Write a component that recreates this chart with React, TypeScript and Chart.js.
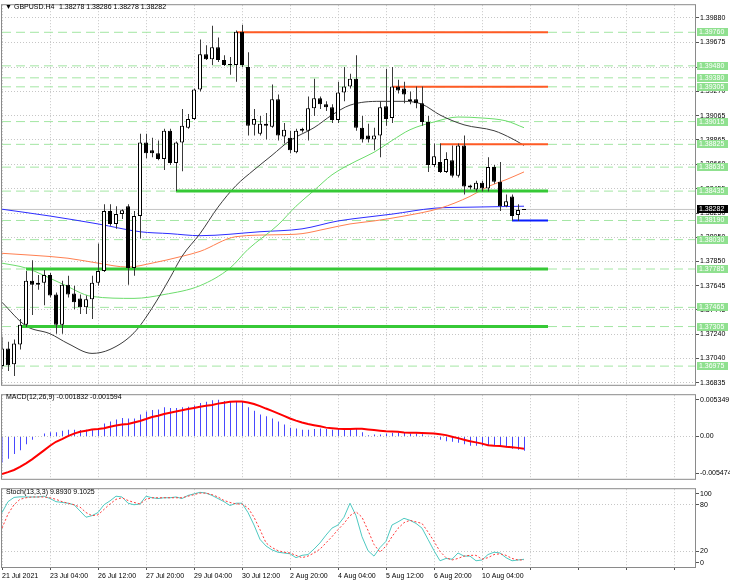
import React, { useEffect, useRef } from "react";
import { Chart, registerables } from "chart.js";

Chart.register(...registerables);

const FONT = '"Liberation Sans", Arial, sans-serif';

// GBPUSD H4 candles, one per bar (bar 0 = 21 Jul 20:00)
const candleOpen = [
  1.36975, 1.37122, 1.36991, 1.37155, 1.37319, 1.37687, 1.37654, 1.3767, 1.37736, 1.37572,
  1.37319, 1.37654, 1.37581, 1.3754, 1.37466, 1.37532, 1.3767, 1.37768, 1.38268, 1.38161,
  1.38243, 1.38309, 1.37793, 1.38227, 1.38841, 1.38775, 1.38751, 1.38702, 1.38939, 1.38669,
  1.38841, 1.38964, 1.39037, 1.39283, 1.39577, 1.39536, 1.39635, 1.39528, 1.39495, 1.39487,
  1.39765, 1.39471, 1.38988, 1.38914, 1.38996, 1.38972, 1.39201, 1.3889, 1.38881, 1.38759,
  1.38955, 1.38939, 1.39127, 1.39209, 1.3916, 1.39135, 1.39029, 1.39258, 1.39307, 1.39373,
  1.38964, 1.38898, 1.38865, 1.38898, 1.39143, 1.39045, 1.39307, 1.39291, 1.39184, 1.39201,
  1.39168, 1.39012, 1.38653, 1.38677, 1.38595, 1.38693, 1.38563, 1.38816, 1.38481, 1.38448,
  1.38505, 1.38456, 1.38636, 1.38513, 1.38309, 1.38391, 1.38235, 1.38278,
];
const candleHigh = [
  1.3722, 1.37179, 1.37196, 1.37368, 1.37768, 1.37859, 1.37736, 1.37777, 1.37752, 1.37589,
  1.37687, 1.37728, 1.37646, 1.37572, 1.37564, 1.37728, 1.37998, 1.38325, 1.38325, 1.38309,
  1.38284, 1.38325, 1.38268, 1.38914, 1.38914, 1.38881, 1.38857, 1.38955, 1.38955, 1.38849,
  1.39119, 1.39078, 1.39291, 1.397, 1.39651, 1.39815, 1.39716, 1.39569, 1.39553, 1.39774,
  1.39823, 1.39594, 1.39119, 1.39062, 1.39086, 1.39324, 1.39242, 1.39004, 1.38939, 1.38955,
  1.38964, 1.39225, 1.39373, 1.39225, 1.39184, 1.3916, 1.39348, 1.39471, 1.39414, 1.39569,
  1.39062, 1.38996, 1.38964, 1.39184, 1.39454, 1.39471, 1.39364, 1.39348, 1.39266, 1.39307,
  1.39307, 1.39062, 1.38832, 1.38832, 1.38759, 1.38816, 1.38832, 1.38898, 1.38489, 1.38521,
  1.38521, 1.38718, 1.38653, 1.38677, 1.38407, 1.38407, 1.38325, 1.38286,
];
const candleLow = [
  1.3695, 1.36934, 1.36893, 1.37114, 1.37302, 1.37401, 1.37613, 1.37483, 1.37548, 1.37245,
  1.37245, 1.37548, 1.3745, 1.37409, 1.37409, 1.37368, 1.37646, 1.3776, 1.38145, 1.3812,
  1.38202, 1.37654, 1.37728, 1.38039, 1.3871, 1.38718, 1.38693, 1.38612, 1.38653, 1.38435,
  1.386, 1.38955, 1.39029, 1.39266, 1.39528, 1.39487, 1.39512, 1.39479, 1.39405, 1.39348,
  1.39471, 1.38898, 1.38898, 1.38898, 1.38865, 1.38964, 1.38857, 1.38832, 1.38751, 1.38751,
  1.38923, 1.38857, 1.39062, 1.39119, 1.39103, 1.39004, 1.39004, 1.39184, 1.39291, 1.38939,
  1.38841, 1.38841, 1.38775, 1.38718, 1.3898, 1.39004, 1.3925, 1.39168, 1.3916, 1.39127,
  1.3898, 1.38595, 1.38636, 1.38587, 1.38587, 1.38549, 1.38549, 1.38407, 1.38448, 1.38432,
  1.38432, 1.38432, 1.38497, 1.38268, 1.38301, 1.3819, 1.38186, 1.38278,
];
const candleClose = [
  1.37122, 1.36983, 1.37163, 1.37319, 1.37687, 1.37654, 1.3767, 1.37736, 1.37564, 1.37319,
  1.37654, 1.37572, 1.37507, 1.37466, 1.37532, 1.3767, 1.37768, 1.38268, 1.38161, 1.38243,
  1.38276, 1.37793, 1.38227, 1.38841, 1.38751, 1.38751, 1.38702, 1.38939, 1.38669, 1.38841,
  1.3898, 1.39037, 1.39283, 1.39577, 1.39536, 1.39635, 1.39528, 1.39487, 1.39487, 1.39765,
  1.39487, 1.3898, 1.39037, 1.38996, 1.3898, 1.39201, 1.38898, 1.38947, 1.38775, 1.38939,
  1.38939, 1.39127, 1.39209, 1.3916, 1.39135, 1.39029, 1.39258, 1.39307, 1.39373, 1.38964,
  1.38865, 1.38865, 1.38898, 1.39135, 1.39037, 1.39307, 1.39274, 1.39242, 1.39201, 1.39168,
  1.39012, 1.38653, 1.38726, 1.38595, 1.38702, 1.38563, 1.38816, 1.38473, 1.38465, 1.38505,
  1.38456, 1.38636, 1.38513, 1.38309, 1.3835, 1.38227, 1.38278, 1.38282,
];

// moving averages: [bar, price]
const maFast = [
  [0, 1.37507], [4, 1.3731], [8, 1.37245], [11, 1.37163], [15, 1.37081], [18, 1.37114],
  [22, 1.37253], [25, 1.37458], [28, 1.37711], [30, 1.37891], [33, 1.3808], [36, 1.38301],
  [39, 1.38481], [42, 1.38612], [45, 1.38734], [48, 1.38857], [52, 1.38964], [55, 1.3907],
  [58, 1.39152], [63, 1.39184], [67, 1.39184], [70, 1.3916], [73, 1.3907], [77, 1.38988],
  [82, 1.38939], [85, 1.38873], [87, 1.38816],
];
const maMid = [
  [0, 1.37834], [4, 1.37793], [10, 1.37662], [15, 1.37556], [22, 1.3754], [27, 1.37572],
  [33, 1.37646], [38, 1.37793], [41, 1.37949], [46, 1.38153], [49, 1.38309], [52, 1.3844],
  [55, 1.38571], [59, 1.38685], [62, 1.38759], [65, 1.38857], [68, 1.38947], [72, 1.39012],
  [76, 1.39053], [80, 1.39045], [84, 1.39021], [87, 1.38964],
];
const maSlow = [
  [0, 1.37916], [5, 1.379], [11, 1.37875], [16, 1.37834], [21, 1.37801], [25, 1.37834],
  [30, 1.37891], [33, 1.37932], [39, 1.38055], [46, 1.38071], [50, 1.3808], [54, 1.3812],
  [58, 1.38161], [62, 1.38186], [67, 1.38227], [73, 1.38292], [78, 1.38391], [81, 1.38473],
  [84, 1.3853], [87, 1.38595],
];
const maLong = [
  [0, 1.38284], [8, 1.38227], [16, 1.38161], [23, 1.38096], [28, 1.3808], [33, 1.38063],
  [43, 1.38096], [50, 1.3812], [56, 1.38186], [61, 1.38219], [65, 1.38243], [72, 1.38292],
  [78, 1.38301], [87, 1.38309],
];

const macdMain = [
  -0.00335, -0.00288, -0.00226, -0.00179, -0.001, -0.00041, 0.00006, 0.00038, 0.00056, 0.00056,
  0.00076, 0.00088, 0.00088, 0.00085, 0.00088, 0.00096, 0.00108, 0.00167, 0.00194, 0.00221,
  0.00241, 0.00233, 0.00233, 0.00285, 0.00323, 0.00343, 0.0035, 0.00379, 0.0037, 0.0037,
  0.00379, 0.00386, 0.00402, 0.00433, 0.00449, 0.00468, 0.00476, 0.00461, 0.00456, 0.00456,
  0.00449, 0.00379, 0.00332, 0.00285, 0.00261, 0.00233, 0.00194, 0.00155, 0.00115, 0.00103,
  0.00088, 0.00088, 0.00096, 0.00103, 0.00096, 0.00088, 0.00096, 0.00096, 0.00096, 0.00096,
  0.00056, 0.00018, 0.00026, 0.00026, 0.00038, 0.00049, 0.00049, 0.00045, 0.00038, 0.00038,
  0.00029, 0.00009, -0.00014, -0.00041, -0.00061, -0.00068, -0.0008, -0.001, -0.0012, -0.0012,
  -0.0012, -0.0012, -0.0012, -0.00127, -0.00139, -0.00159, -0.0017, -0.001832,
];
const macdSignal = [
  -0.00485, -0.00461, -0.00433, -0.00394, -0.00347, -0.00296, -0.00238, -0.00179, -0.0012, -0.00068,
  -0.00033, 0.00006, 0.00038, 0.00061, 0.00076, 0.00092, 0.00096, 0.00108, 0.00127, 0.00143,
  0.00155, 0.00162, 0.00182, 0.00202, 0.00226, 0.00253, 0.00268, 0.00292, 0.00308, 0.00323,
  0.00339, 0.00355, 0.0037, 0.00386, 0.00397, 0.00409, 0.00426, 0.00437, 0.00449, 0.00453,
  0.00453, 0.00441, 0.00421, 0.00394, 0.00362, 0.00332, 0.003, 0.00268, 0.00233, 0.00206,
  0.00182, 0.00162, 0.00147, 0.00132, 0.00115, 0.00108, 0.001, 0.00096, 0.00096, 0.001,
  0.001, 0.00092, 0.00085, 0.00076, 0.00068, 0.00065, 0.00061, 0.00053, 0.00049, 0.00049,
  0.00045, 0.00041, 0.00038, 0.00029, 0.00018, -0.00002, -0.00021, -0.00041, -0.00061, -0.00076,
  -0.00092, -0.00112, -0.0012, -0.00123, -0.00132, -0.00139, -0.00147, -0.001594,
];

const stochMain = [
  69.9, 84, 89.4, 90.2, 90, 90, 90, 91, 88, 84,
  83, 82, 80, 72, 64, 66, 70, 80, 85, 91,
  90, 82, 80, 81, 91, 89, 88, 89, 89, 90,
  88, 92, 94, 96, 95, 92, 88, 84, 79, 82,
  82, 70, 54, 35.5, 27, 22, 19, 18, 17, 12,
  15, 16, 23, 31, 41, 50, 54, 64, 82, 66,
  39, 21, 14, 25, 33, 54, 58, 62.6, 60, 56,
  50, 35.5, 21, 8, 11, 10, 18, 14, 14, 8,
  9, 16, 19, 18, 12, 8, 9, 9.893,
];
const stochSignal = [
  50, 68, 80, 87, 89, 90, 90, 90, 89, 87,
  84, 82, 80, 77, 70, 66, 67, 74, 81, 87,
  89, 85.5, 83, 81, 87, 89, 89, 89, 89, 89,
  89, 91, 93, 95, 95, 93, 90, 85.5, 83, 81,
  81, 76, 64, 48, 31, 25, 21, 19, 18, 15,
  12, 14, 18, 23, 31, 39, 48, 56, 66, 71,
  64, 47, 29, 19, 27, 39, 49.6, 57, 60, 58,
  56, 45, 33, 20, 12, 9, 11, 14, 15, 15,
  10, 12, 16, 17, 15, 11, 9, 9.1025,
];

const priceTicks = [
  1.3988, 1.39675, 1.3947, 1.3927, 1.39065, 1.38865, 1.3866, 1.38455,
  1.3825, 1.3805, 1.3785, 1.37645, 1.37445, 1.3724, 1.3704, 1.36835,
];
const timeLabels = [
  "21 Jul 2021", "23 Jul 04:00", "26 Jul 12:00", "27 Jul 20:00", "29 Jul 04:00", "30 Jul 12:00",
  "2 Aug 20:00", "4 Aug 04:00", "5 Aug 12:00", "6 Aug 20:00", "10 Aug 04:00",
];
const gridBars = [0, 8, 16, 24, 32, 40, 48, 56, 64, 72, 80, 88, 96, 104, 112];

// dashed price levels with their axis labels
const labelLevels = [
  1.3976, 1.3948, 1.3938, 1.39305, 1.39015, 1.38825, 1.38635,
  1.38435, 1.3819, 1.3803, 1.37785, 1.37465, 1.37305, 1.36975,
];
// drawn support / resistance segments
const segPrice = [1.3976, 1.39305, 1.38825, 1.38435, 1.37785, 1.37305, 1.3819];
const segFrom = [39, 65, 73, 29, 4, 3, 85];
const segKind = ["res", "res", "res", "sup", "sup", "sup", "low"];
const segTo = 91;

const macdAxisText = ["0.005349", "0.00", "-0.005474"];
const macdAxisAt = [0.00476, 0, -0.00477];
const stochAxisText = ["100", "80", "20", "0"];
const stochAxisAt = [94.2, 80, 20, 5.4];

const X_MAX = 115.5;
const last = candleClose.length - 1;

const segColor: Record<string, string> = { res: "#ff5a24", sup: "#36c936", low: "#0a1eff" };
const segWidth: Record<string, number> = { res: 2, sup: 3, low: 2 };

const xScale = (labels: boolean) => ({
  type: "linear" as const,
  min: 0,
  max: X_MAX,
  offset: false,
  afterBuildTicks: (s: any) => {
    s.ticks = gridBars.map((v) => ({ value: v }));
  },
  afterFit: (s: any) => {
    s.height = labels ? 17 : 0;
  },
  ticks: {
    display: labels,
    autoSkip: false,
    maxRotation: 0,
    align: "start" as const,
    padding: 2,
    color: "#000",
    font: { family: FONT, size: 7 },
    callback: (_v: any, i: number) => timeLabels[i] ?? "",
  },
  grid: {
    color: "#c6c6c6",
    offset: false,
    drawTicks: labels,
    tickLength: 3,
    tickColor: "#555",
    tickBorderDash: [],
  },
  border: { display: false, dash: [1, 2] },
});

const yAxisBase = {
  position: "right" as const,
  afterFit: (s: any) => {
    s.width = 35;
  },
  border: { display: false, dash: [1, 2] },
};

const frame = (chart: any) => {
  const { ctx, chartArea: a } = chart;
  ctx.save();
  ctx.strokeStyle = "#8a8a8a";
  ctx.lineWidth = 1;
  ctx.strokeRect(a.left - 0.5, a.top - 0.5, a.right - a.left + 1, a.bottom - a.top + 1);
  ctx.restore();
};

// 1px bars sit on whole-pixel centres; nudge them half a pixel so they render crisp
const crispBars = {
  id: "crispBars",
  beforeDatasetDraw(chart: any, args: any) {
    if (chart.data.datasets[args.index].crisp) {
      chart.ctx.save();
      chart.ctx.translate(0.5, 0);
    }
  },
  afterDatasetDraw(chart: any, args: any) {
    if (chart.data.datasets[args.index].crisp) chart.ctx.restore();
  },
};

const line = (pts: number[][], color: string, width = 1, extra: any = {}) => ({
  type: "line" as const,
  data: pts.map(([x, y]) => ({ x, y })),
  borderColor: color,
  borderWidth: width,
  pointRadius: 0,
  ...extra,
});

export default function App() {
  const mainRef = useRef<HTMLCanvasElement | null>(null);
  const macdRef = useRef<HTMLCanvasElement | null>(null);
  const stochRef = useRef<HTMLCanvasElement | null>(null);

  useEffect(() => {
    document.body.style.margin = "0";
    const charts: Chart[] = [];
    const common = {
      animation: false as const,
      responsive: false,
      events: [],
      plugins: { legend: { display: false }, tooltip: { enabled: false } },
    };

    // ---- price panel ----
    const mainPlugin = {
      id: "mainDecor",
      afterDraw(chart: any) {
        frame(chart);
        const { ctx, chartArea: a, scales } = chart;
        const y = scales.y;
        ctx.save();
        ctx.font = `7px ${FONT}`;
        ctx.textBaseline = "middle";
        labelLevels.forEach((p) => {
          const py = Math.round(y.getPixelForValue(p));
          ctx.fillStyle = "#8fe08f";
          ctx.fillRect(a.right + 2, py - 4, 31, 8);
          ctx.fillStyle = "#fff";
          ctx.fillText(p.toFixed(5), a.right + 4, py + 0.5);
        });
        const lp = Math.round(y.getPixelForValue(candleClose[last]));
        ctx.fillStyle = "#000";
        ctx.fillRect(a.right + 2, lp - 4, 31, 8);
        ctx.fillStyle = "#fff";
        ctx.fillText(candleClose[last].toFixed(5), a.right + 4, lp + 0.5);
        // header
        ctx.fillStyle = "#000";
        ctx.fillText("\u25BC", 5, 7.5);
        ctx.fillText("GBPUSD.H4", 14, 7.5);
        const q = [candleOpen[last], candleHigh[last], candleLow[last], candleClose[last]];
        ctx.fillText(q.map((v) => v.toFixed(5)).join(" "), 59, 7.5);
        ctx.restore();
      },
    };

    if (mainRef.current) {
      const datasets: any[] = [];
      labelLevels.forEach((p) =>
        datasets.push(line([[0, p], [X_MAX, p]], "#a3e6a3", 1, { borderDash: [9, 5], order: 20 }))
      );
      datasets.push(line([[0, candleClose[last]], [X_MAX, candleClose[last]]], "#c4c4c4", 1, { order: 19 }));
      const ma = { cubicInterpolationMode: "monotone" };
      datasets.push(line(maLong, "#2d2dff", 1, { ...ma, order: 15 }));
      datasets.push(line(maSlow, "#ff7f50", 1, { ...ma, order: 14 }));
      datasets.push(line(maMid, "#6cdc6c", 1, { ...ma, order: 13 }));
      datasets.push(line(maFast, "#3c3c3c", 1, { ...ma, order: 12 }));
      segPrice.forEach((p, k) =>
        datasets.push(
          line([[segFrom[k], p], [segTo, p]], segColor[segKind[k]], segWidth[segKind[k]], { order: 5 })
        )
      );
      datasets.push({
        type: "bar",
        data: candleLow.map((l, i) => ({ x: i, y: [l, candleHigh[i]] })),
        backgroundColor: "#3a3a3a",
        grouped: false,
        maxBarThickness: 1,
        crisp: true,
        order: 2,
      });
      datasets.push({
        type: "bar",
        data: candleOpen.map((o, i) => ({ x: i, y: [o, candleClose[i]] })),
        backgroundColor: candleOpen.map((o, i) => (candleClose[i] >= o ? "#ffffff" : "#000000")),
        borderColor: "#000",
        borderWidth: 1,
        borderSkipped: false,
        grouped: false,
        maxBarThickness: 4,
        minBarLength: 1,
        order: 1,
      });
      charts.push(
        new Chart(mainRef.current, {
          type: "bar",
          data: { datasets },
          options: {
            ...common,
            layout: { padding: { left: 2, top: 2, right: 0, bottom: 1 } },
            scales: {
              x: xScale(false),
              y: {
                ...yAxisBase,
                min: 1.36819,
                max: 1.39986,
                afterBuildTicks: (s: any) => {
                  s.ticks = priceTicks.map((v) => ({ value: v }));
                },
                ticks: {
                  autoSkip: false,
                  padding: 1,
                  color: "#000",
                  font: { family: FONT, size: 7 },
                  callback: (v: any) => Number(v).toFixed(5),
                },
                grid: { color: "#c6c6c6", tickLength: 4, tickColor: "#555", tickBorderDash: [] },
              },
            },
          } as any,
          plugins: [crispBars, mainPlugin],
        })
      );
    }

    // ---- MACD panel ----
    if (macdRef.current) {
      charts.push(
        new Chart(macdRef.current, {
          type: "bar",
          data: {
            datasets: [
              line(macdSignal.map((v, i) => [i, v]), "#ff0000", 2, { order: 1 }),
              {
                type: "bar",
                data: macdMain.map((v, i) => ({ x: i, y: v })),
                backgroundColor: "#4848ff",
                grouped: false,
                maxBarThickness: 1,
                crisp: true,
                order: 2,
              } as any,
            ],
          },
          options: {
            ...common,
            layout: { padding: { left: 2, top: 1, right: 0, bottom: 1 } },
            scales: {
              x: xScale(false),
              y: {
                ...yAxisBase,
                min: -0.005474,
                max: 0.005349,
                afterBuildTicks: (s: any) => {
                  s.ticks = macdAxisAt.map((v) => ({ value: v }));
                },
                ticks: {
                  autoSkip: false,
                  padding: 1,
                  color: "#000",
                  font: { family: FONT, size: 7 },
                  callback: (_v: any, i: number) => macdAxisText[i],
                },
                grid: {
                  color: (c: any) => (c.tick && c.tick.value === 0 ? "#c6c6c6" : "rgba(0,0,0,0)"),
                  tickLength: 4,
                  tickColor: "#555",
                  tickBorderDash: [],
                },
              },
            },
          } as any,
          plugins: [
            crispBars,
            {
              id: "macdDecor",
              afterDraw(chart: any) {
                frame(chart);
                const { ctx } = chart;
                ctx.save();
                ctx.font = `7px ${FONT}`;
                ctx.textBaseline = "middle";
                ctx.fillStyle = "#000";
                ctx.fillText(
                  `MACD(12,26,9) ${macdMain[last].toFixed(6)} ${macdSignal[last].toFixed(6)}`,
                  6,
                  7.5
                );
                ctx.restore();
              },
            },
          ],
        })
      );
    }

    // ---- Stochastic panel ----
    if (stochRef.current) {
      charts.push(
        new Chart(stochRef.current, {
          type: "line",
          data: {
            datasets: [
              line(stochSignal.map((v, i) => [i, v]), "#ff3b3b", 1, { borderDash: [2, 2], order: 1 }),
              line(stochMain.map((v, i) => [i, v]), "#4fc9c1", 1, { order: 2 }),
            ],
          },
          options: {
            ...common,
            layout: { padding: { left: 2, top: 1, right: 0, bottom: 0 } },
            scales: {
              x: xScale(true),
              y: {
                ...yAxisBase,
                min: 0,
                max: 100,
                afterBuildTicks: (s: any) => {
                  s.ticks = stochAxisAt.map((v) => ({ value: v }));
                },
                ticks: {
                  autoSkip: false,
                  padding: 1,
                  color: "#000",
                  font: { family: FONT, size: 7 },
                  callback: (_v: any, i: number) => stochAxisText[i],
                },
                grid: {
                  color: (c: any) =>
                    c.tick && (c.tick.value === 80 || c.tick.value === 20) ? "#c6c6c6" : "rgba(0,0,0,0)",
                  tickLength: 4,
                  tickColor: "#555",
                  tickBorderDash: [],
                },
              },
            },
          } as any,
          plugins: [
            {
              id: "stochDecor",
              afterDraw(chart: any) {
                frame(chart);
                const { ctx } = chart;
                ctx.save();
                ctx.font = `7px ${FONT}`;
                ctx.textBaseline = "middle";
                ctx.fillStyle = "#000";
                ctx.fillText(
                  `Stoch(13,3,3) ${stochMain[last].toFixed(4)} ${stochSignal[last].toFixed(4)}`,
                  6,
                  8
                );
                ctx.restore();
              },
            },
          ],
        })
      );
    }

    return () => charts.forEach((c) => c.destroy());
  }, []);

  return (
    <div style={{ position: "relative", width: 730, height: 584, background: "#fff", overflow: "hidden" }}>
      <canvas ref={mainRef} width={730} height={390} style={{ position: "absolute", left: 0, top: 0 }} />
      <canvas ref={macdRef} width={730} height={94} style={{ position: "absolute", left: 0, top: 390 }} />
      <canvas ref={stochRef} width={730} height={100} style={{ position: "absolute", left: 0, top: 484 }} />
    </div>
  );
}
